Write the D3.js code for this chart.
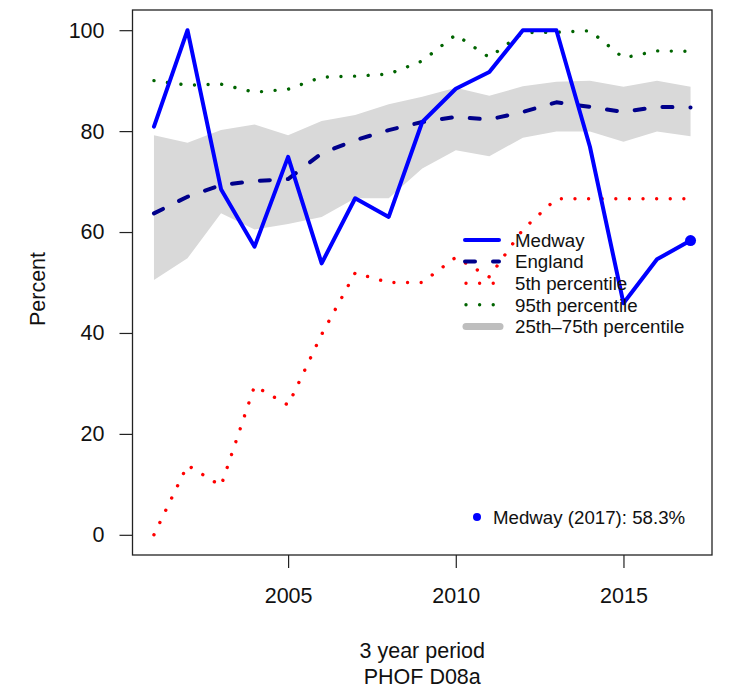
<!DOCTYPE html>
<html>
<head>
<meta charset="utf-8">
<script src="https://cdn.jsdelivr.net/npm/d3@7"></script>
<style>
    body { margin: 0; background: #fff; }
    svg { display: block; font-family: "Liberation Sans", Arial, sans-serif; }
</style>
</head>
<body>
<script>
var years = [2001, 2002, 2003, 2004, 2005, 2006, 2007, 2008, 2009, 2010, 2011, 2012, 2013, 2014, 2015, 2016, 2017];
var medway = [80.9, 100, 68.5, 57.1, 74.9, 53.8, 66.7, 63.0, 81.8, 88.4, 91.7, 100, 100, 76.9, 45.9, 54.6, 58.3];
var england = [63.7, 67.0, 69.3, 70.1, 70.5, 75.6, 78.2, 80.2, 81.8, 82.8, 82.3, 83.8, 85.7, 84.8, 83.8, 84.8, 84.7];
var p25 = [50.5, 54.8, 63.7, 60.5, 61.6, 63.0, 66.7, 66.7, 72.6, 76.2, 75.0, 78.7, 79.9, 79.9, 77.9, 79.9, 79.0];
var p75 = [79.2, 77.7, 80.2, 81.3, 79.2, 82.0, 83.2, 85.3, 86.8, 88.6, 87.0, 88.9, 89.8, 90.0, 88.8, 90.0, 88.8];
var p5 = [0, 13.8, 9.7, 29.5, 25.7, 39.7, 51.9, 50.0, 50.0, 55.0, 51.1, 60.5, 66.6, 66.6, 66.6, 66.6, 66.6];
var p95 = [90.0, 89.1, 89.3, 87.7, 88.3, 90.7, 90.9, 91.3, 93.9, 99.1, 94.6, 99.5, 99.6, 99.9, 94.5, 95.9, 95.8];

var yTicks = [0, 20, 40, 60, 80, 100];
var xTicks = [2005, 2010, 2015];
var legendLabels = ['Medway', 'England', '5th percentile', '95th percentile', '25th\u201375th percentile'];
var latestLabel = 'Medway (2017): 58.3%';

var width = 730, height = 690;
var box = {left: 132.5, right: 712, top: 10, bottom: 555};

var svg = d3.select('body').append('svg')
    .attr('width', width)
    .attr('height', height);

// R style 4% padding round the data range
var x = d3.scaleLinear().domain([2000.36, 2017.64]).range([box.left, box.right]);
var y = d3.scaleLinear().domain([-4, 104]).range([box.bottom, box.top]);

var rows = years.map(function (yr, i) {
    return {year: yr, medway: medway[i], england: england[i], p5: p5[i], p25: p25[i], p75: p75[i], p95: p95[i]};
});

// band
svg.append('path')
    .datum(rows)
    .attr('fill', '#d9d9d9')
    .attr('d', d3.area()
        .x(function (d) { return x(d.year); })
        .y0(function (d) { return y(d.p25); })
        .y1(function (d) { return y(d.p75); }));

function line(key) {
    return d3.line()
        .x(function (d) { return x(d.year); })
        .y(function (d) { return y(d[key]); });
}

var styles = {
    p5: {stroke: '#ff0000', width: 3.4, dash: '0.01,13.6'},
    p95: {stroke: '#006400', width: 3.4, dash: '0.01,13.6'},
    england: {stroke: '#00008b', width: 4, dash: '10,18'},
    medway: {stroke: '#0000ff', width: 4, dash: null}
};

['p5', 'p95', 'england', 'medway'].forEach(function (key) {
    var s = styles[key];
    svg.append('path')
        .datum(rows)
        .attr('fill', 'none')
        .attr('stroke', s.stroke)
        .attr('stroke-width', s.width)
        .attr('stroke-linecap', 'round')
        .attr('stroke-linejoin', 'round')
        .attr('stroke-dasharray', s.dash)
        .attr('d', line(key));
});

// latest point
var last = rows[rows.length - 1];
svg.append('circle')
    .attr('cx', x(last.year))
    .attr('cy', y(last.medway))
    .attr('r', 5.5)
    .attr('fill', '#0000ff');

// axes
var yAxis = svg.append('g')
    .attr('transform', 'translate(' + box.left + ',0)')
    .call(d3.axisLeft(y).tickValues(yTicks).tickSize(13).tickPadding(15));
var xAxis = svg.append('g')
    .attr('transform', 'translate(0,' + box.bottom + ')')
    .call(d3.axisBottom(x).tickValues(xTicks).tickFormat(d3.format('d')).tickSize(13).tickPadding(20));

[yAxis, xAxis].forEach(function (g) {
    g.select('.domain').remove();
    g.selectAll('line').attr('stroke', '#222').attr('stroke-width', 1.2);
    g.selectAll('text')
        .attr('fill', '#111')
        .style('font-size', '21.5px')
        .style('font-family', '"Liberation Sans", Arial, sans-serif');
});

// box
svg.append('rect')
    .attr('x', box.left)
    .attr('y', box.top)
    .attr('width', box.right - box.left)
    .attr('height', box.bottom - box.top)
    .attr('fill', 'none')
    .attr('stroke', '#222')
    .attr('stroke-width', 1.3);

// axis titles
svg.append('text')
    .attr('transform', 'translate(45,289) rotate(-90)')
    .attr('text-anchor', 'middle')
    .style('font-size', '21.5px')
    .attr('fill', '#111')
    .text('Percent');

var xt = svg.append('text')
    .attr('text-anchor', 'middle')
    .style('font-size', '21.5px')
    .attr('fill', '#111');
xt.append('tspan').attr('x', (box.left + box.right) / 2).attr('y', 658).text('3 year period');
xt.append('tspan').attr('x', (box.left + box.right) / 2).attr('y', 684).text('PHOF D08a');

// legend
var legend = svg.append('g');
var legendKeys = ['medway', 'england', 'p5', 'p95', 'band'];
legendKeys.forEach(function (key, i) {
    var ly = 240 + i * 21.6;
    if (key === 'band') {
        legend.append('line')
            .attr('x1', 466).attr('x2', 500).attr('y1', ly).attr('y2', ly)
            .attr('stroke', '#bebebe').attr('stroke-width', 7).attr('stroke-linecap', 'round');
    } else {
        var s = styles[key];
        var isDot = key === 'p5' || key === 'p95';
        legend.append('line')
            .attr('x1', isDot ? 466 : 465).attr('x2', isDot ? 494.2 : 499).attr('y1', ly).attr('y2', ly)
            .attr('stroke', s.stroke).attr('stroke-width', s.width)
            .attr('stroke-linecap', 'round')
            .attr('stroke-dasharray', isDot ? '0.01,13.6' : s.dash);
    }
    legend.append('text')
        .attr('x', 515).attr('y', ly).attr('dy', '0.36em')
        .style('font-size', '18.7px')
        .attr('fill', '#111')
        .text(legendLabels[i]);
});

// latest value note
svg.append('circle').attr('cx', 477).attr('cy', 517).attr('r', 4).attr('fill', '#0000ff');
svg.append('text')
    .attr('x', 493).attr('y', 517).attr('dy', '0.36em')
    .style('font-size', '18.7px')
    .attr('fill', '#111')
    .text(latestLabel);
</script>
</body>
</html>
